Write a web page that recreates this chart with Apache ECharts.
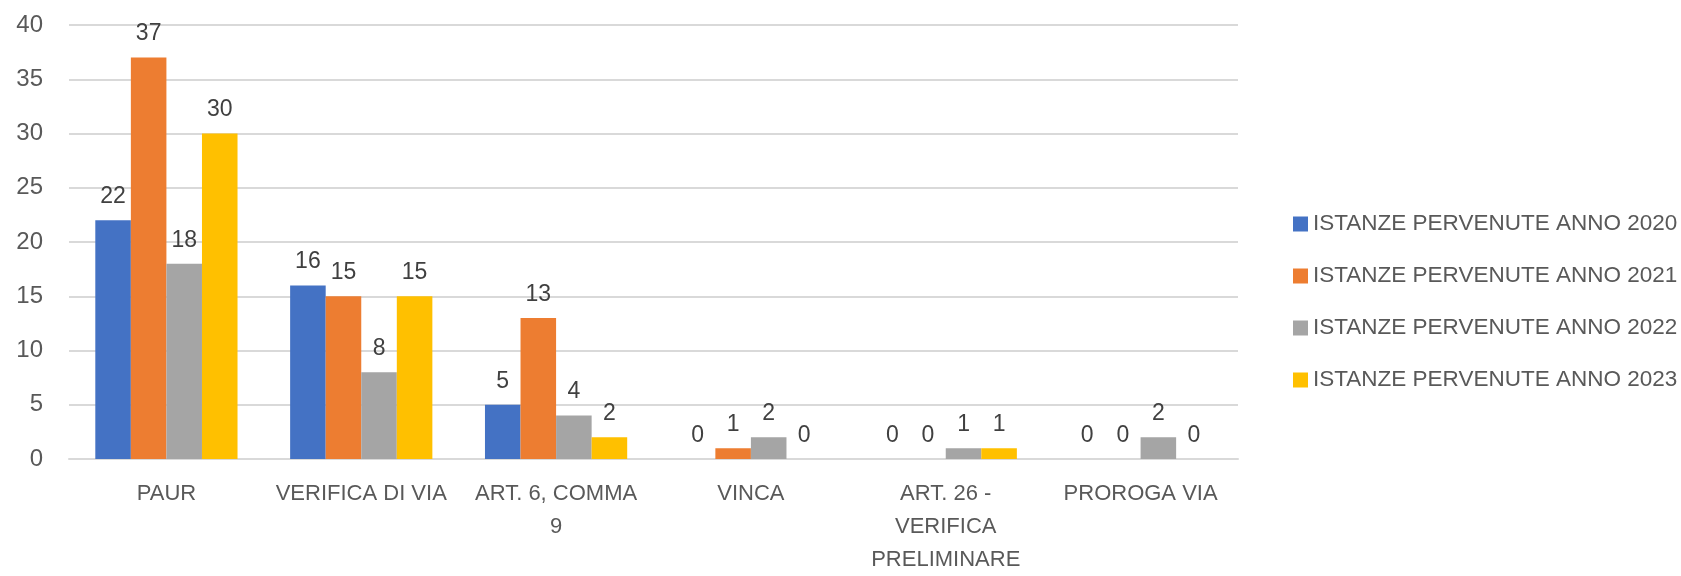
<!DOCTYPE html>
<html><head><meta charset="utf-8">
<script src="https://cdn.jsdelivr.net/npm/echarts@6/dist/echarts.min.js"></script>
<style>html,body{margin:0;padding:0;background:#fff}#c{width:1681px;height:576px}</style>
</head><body><div id="c"></div>
<script>
const categories = ['PAUR', 'VERIFICA DI VIA', 'ART. 6, COMMA\n9', 'VINCA', 'ART. 26 -\nVERIFICA\nPRELIMINARE', 'PROROGA VIA'];
const seriesNames = ['ISTANZE PERVENUTE ANNO 2020', 'ISTANZE PERVENUTE ANNO 2021', 'ISTANZE PERVENUTE ANNO 2022', 'ISTANZE PERVENUTE ANNO 2023'];
const values2020 = [22, 16, 5, 0, 0, 0];
const values2021 = [37, 15, 13, 1, 0, 0];
const values2022 = [18, 8, 4, 2, 1, 2];
const values2023 = [30, 15, 2, 0, 1, 0];
const yTicks = [0, 5, 10, 15, 20, 25, 30, 35, 40];
const colors = ['#4472C4', '#ED7D31', '#A5A5A5', '#FFC000'];
const allValues = [values2020, values2021, values2022, values2023];
const FONT = 'Liberation Sans';
const chart = echarts.init(document.getElementById('c'));
chart.setOption({
  animation: false,
  color: colors,
  textStyle: {fontFamily: FONT},
  grid: {left: 69, right: 443, top: 25, bottom: 112, containLabel: false},
  legend: {
    orient: 'vertical', left: 1288, top: 207, itemWidth: 15, itemHeight: 15, itemGap: 28,
    icon: 'rect',
    textStyle: {fontSize: 22.5, lineHeight: 24, color: '#595959', fontFamily: FONT},
    data: seriesNames
  },
  xAxis: {
    type: 'category', data: categories,
    axisLine: {lineStyle: {color: '#D9D9D9', width: 2}},
    axisTick: {show: false},
    axisLabel: {fontSize: 22, color: '#595959', margin: 18, lineHeight: 33, interval: 0}
  },
  yAxis: {
    type: 'value', min: yTicks[0], max: yTicks[yTicks.length - 1], interval: 5,
    axisLine: {show: false}, axisTick: {show: false},
    axisLabel: {fontSize: 24, color: '#595959', margin: 26},
    splitLine: {lineStyle: {color: '#D9D9D9', width: 2}}
  },
  series: seriesNames.map((n, i) => ({
    name: n, type: 'bar', data: allValues[i],
    barGap: '0%', barCategoryGap: '27%',
    label: {show: true, position: 'top', distance: 12, fontSize: 23, color: '#404040', fontFamily: FONT}
  }))
});
</script></body></html>
